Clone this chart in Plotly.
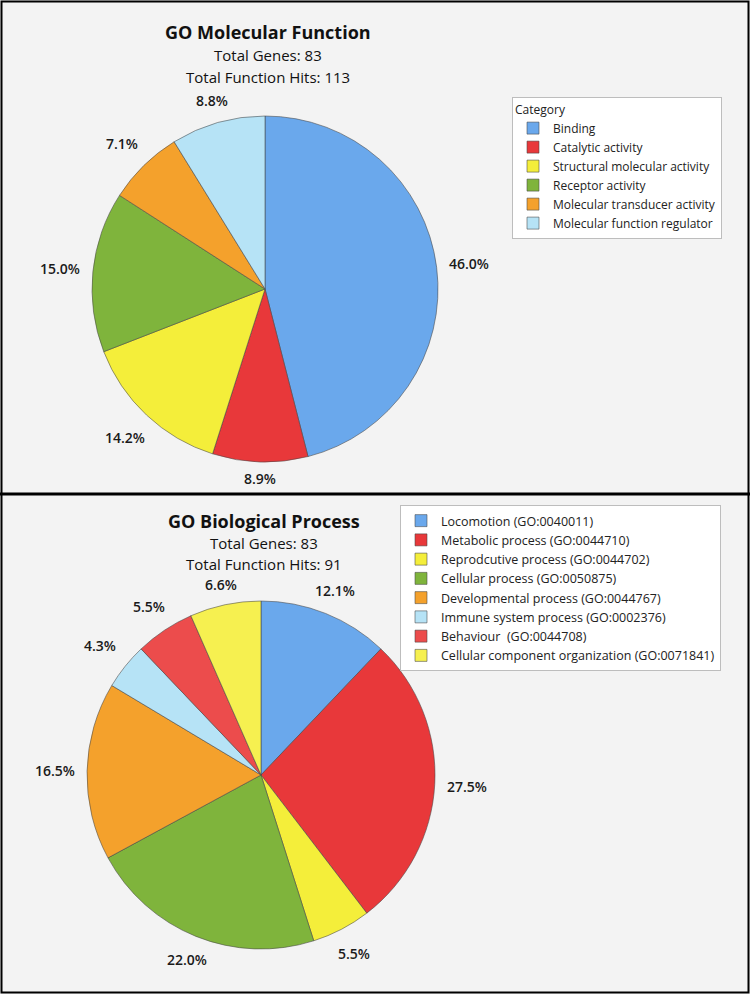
import math
import plotly.graph_objects as go

mf_labels = ["Binding", "Catalytic activity", "Structural molecular activity",
             "Receptor activity", "Molecular transducer activity", "Molecular function regulator"]
mf_values = [46.0, 8.9, 14.2, 15.0, 7.1, 8.8]
mf_colors = ["#6aa8ec", "#e8383a", "#f4ee3a", "#7fb43c", "#f4a12c", "#b6e3f6"]

bp_labels = ["Locomotion (GO:0040011)", "Metabolic process (GO:0044710)",
             "Reprodcutive process (GO:0044702)", "Cellular process (GO:0050875)",
             "Developmental process (GO:0044767)", "Immune system process (GO:0002376)",
             "Behaviour  (GO:0044708)", "Cellular component organization (GO:0071841)"]
bp_values = [12.1, 27.5, 5.5, 22.0, 16.5, 4.3, 5.5, 6.6]
bp_colors = ["#6aa8ec", "#e8383a", "#f4ee3a", "#7fb43c", "#f4a12c", "#b6e3f6", "#ec4c4c", "#f6f050"]

W, H = 750, 994
FONT = "Open Sans"

# pie geometry (pixels): centre x, centre y, radius
TOP_PIE = (265, 289, 173)
BOT_PIE = (261, 775, 174)


def domain(cx, cy, r):
    return dict(x=[(cx - r) / W, (cx + r) / W], y=[1 - (cy + r) / H, 1 - (cy - r) / H])


def pct_labels(values, pie, gap=6, tw=26, th=10):
    cx, cy, r = pie
    total = sum(values)
    out = []
    cum = 0.0
    for v in values:
        mid = (cum + v / 2) / total * 2 * math.pi
        cum += v
        s, c = math.sin(mid), math.cos(mid)
        rad = r + gap + tw * abs(s) + th * abs(c)
        px, py = cx + rad * s, cy - rad * c
        out.append(dict(text=f"{v:.1f}%", x=px / W, y=1 - py / H,
                        xref="paper", yref="paper", showarrow=False,
                        xanchor="center", yanchor="middle",
                        font=dict(size=14, family=FONT, color="#1a1a1a", weight=600)))
    return out


fig = go.Figure()
fig.add_trace(go.Pie(
    labels=mf_labels, values=mf_values, sort=False, direction="clockwise", rotation=0,
    marker=dict(colors=mf_colors, line=dict(color="rgba(70,70,70,0.7)", width=0.8)),
    textinfo="none", domain=domain(*TOP_PIE),
    legend="legend", showlegend=True, hoverinfo="label+percent",
))
fig.add_trace(go.Pie(
    labels=bp_labels, values=bp_values, sort=False, direction="clockwise", rotation=0,
    marker=dict(colors=bp_colors, line=dict(color="rgba(70,70,70,0.7)", width=0.8)),
    textinfo="none", domain=domain(*BOT_PIE),
    legend="legend2", showlegend=True, hoverinfo="label+percent",
))

annotations = [
    dict(text="<b>GO Molecular Function</b>", x=268 / W, y=1 - 32 / H, font=dict(size=18)),
    dict(text="Total Genes: 83", x=268 / W, y=1 - 55 / H, font=dict(size=15)),
    dict(text="Total Function Hits: 113", x=268 / W, y=1 - 77 / H, font=dict(size=15)),
    dict(text="<b>GO Biological Process</b>", x=264 / W, y=1 - 521 / H, font=dict(size=18)),
    dict(text="Total Genes: 83", x=264 / W, y=1 - 543 / H, font=dict(size=15)),
    dict(text="Total Function Hits: 91", x=264 / W, y=1 - 564 / H, font=dict(size=15)),
]
for a in annotations:
    a.update(xref="paper", yref="paper", showarrow=False, xanchor="center", yanchor="middle")
    a["font"].update(family=FONT, color="#111")

annotations += pct_labels(mf_values, TOP_PIE)
annotations += pct_labels(bp_values, BOT_PIE)

shapes = [
    dict(type="rect", x0=1.5 / W, x1=1 - 1.5 / W, y0=1.5 / H, y1=1 - 1.5 / H,
         line=dict(color="black", width=2)),
    dict(type="line", x0=0, x1=1, y0=1 - 494 / H, y1=1 - 494 / H,
         line=dict(color="black", width=3)),
]
for s in shapes:
    s.update(xref="paper", yref="paper")

fig.update_layout(
    width=W, height=H, margin=dict(l=0, r=0, t=0, b=0, autoexpand=False),
    paper_bgcolor="#f3f3f3", plot_bgcolor="#f3f3f3",
    font=dict(family=FONT, color="#222"),
    annotations=annotations, shapes=shapes,
    legend=dict(x=512 / W, y=1 - 97 / H, xanchor="left", yanchor="top",
                bgcolor="white", bordercolor="#bdbdbd", borderwidth=1,
                title=dict(text="Category", font=dict(size=12, family=FONT)),
                font=dict(size=12, family=FONT, color="#222"),
                itemwidth=30, tracegroupgap=0),
    legend2=dict(x=400 / W, y=1 - 505 / H, xanchor="left", yanchor="top",
                 bgcolor="white", bordercolor="#bdbdbd", borderwidth=1,
                 font=dict(size=12.5, family=FONT, color="#222"),
                 itemwidth=30, tracegroupgap=0),
)

fig.write_html("out.html", config={"displayModeBar": False},
               post_script="document.body.style.margin='0';")
